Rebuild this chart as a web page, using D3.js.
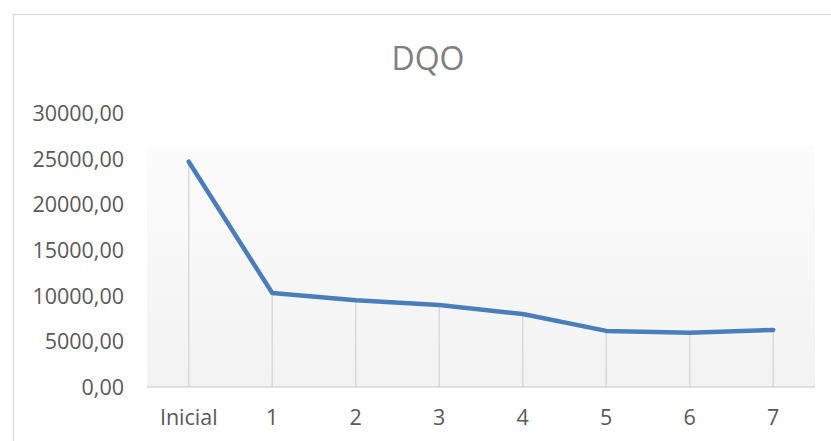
<!DOCTYPE html>
<meta charset="utf-8">
<html>
  <head>
    <style>
      body { margin: 0; background: #fff; }
      text.tick { font-family: "Open Sans", sans-serif; font-size: 21.5px; fill: #595959; }
      text.title { font-family: "Open Sans", sans-serif; font-size: 32px; fill: #7f7f7f; }
    </style>
    <script src="https://cdn.jsdelivr.net/npm/d3@7"></script>
  </head>
  <body>
    <div id="chart"></div>
    <script>
      var categories = ["Inicial", "1", "2", "3", "4", "5", "6", "7"];
      var dqo = [24700, 10300, 9500, 9000, 8000, 6150, 5950, 6250];
      var yTicks = [0, 5000, 10000, 15000, 20000, 25000, 30000];

      var W = 831, H = 441,
          plotLeft = 147, plotRight = 815, plotTop = 113.4, plotBottom = 387;

      var svg = d3.select("#chart").append("svg")
          .attr("width", W)
          .attr("height", H);

      // chart frame (runs off the window at right/bottom)
      svg.append("rect")
          .attr("x", 13.5).attr("y", 14.5)
          .attr("width", W).attr("height", H)
          .style("fill", "none")
          .style("stroke", "#d9d9d9")
          .style("stroke-width", 1.2);

      var x = d3.scaleBand().domain(categories).range([plotLeft, plotRight]);
      var y = d3.scaleLinear().domain([0, 30000]).range([plotBottom, plotTop]);

      var grad = svg.append("defs").append("linearGradient")
          .attr("id", "bg").attr("x1", 0).attr("y1", 0).attr("x2", 0).attr("y2", 1);
      grad.append("stop").attr("offset", "0").attr("stop-color", "#ffffff");
      grad.append("stop").attr("offset", "0.12").attr("stop-color", "#ffffff");
      grad.append("stop").attr("offset", "0.125").attr("stop-color", "#fcfcfc");
      grad.append("stop").attr("offset", "1").attr("stop-color", "#f2f2f2");

      svg.append("rect")
          .attr("x", plotLeft).attr("y", y(30000))
          .attr("width", plotRight - plotLeft).attr("height", plotBottom - y(30000))
          .style("fill", "url(#bg)");

      svg.append("text")
          .attr("class", "title")
          .attr("x", 428).attr("y", 70)
          .style("text-anchor", "middle")
          .text("DQO");

      // drop lines
      svg.selectAll(".drop")
          .data(dqo)
          .enter().append("line")
          .attr("x1", function(d, i) { return x(categories[i]) + x.bandwidth() / 2; })
          .attr("x2", function(d, i) { return x(categories[i]) + x.bandwidth() / 2; })
          .attr("y1", function(d) { return y(d); })
          .attr("y2", y(0))
          .style("stroke", "#d9d9d9")
          .style("stroke-width", 1.5);

      // x axis line
      svg.append("line")
          .attr("x1", plotLeft).attr("x2", plotRight)
          .attr("y1", y(0)).attr("y2", y(0))
          .style("stroke", "#d9d9d9")
          .style("stroke-width", 1.5);

      // y labels
      svg.selectAll(".ylab")
          .data(yTicks)
          .enter().append("text")
          .attr("class", "tick")
          .attr("x", 124)
          .attr("y", function(d) { return y(d) + 7.8; })
          .style("text-anchor", "end")
          .text(function(d) { return d3.format(".2f")(d).replace(".", ","); });

      // x labels
      svg.selectAll(".xlab")
          .data(categories)
          .enter().append("text")
          .attr("class", "tick")
          .attr("x", function(d) { return x(d) + x.bandwidth() / 2; })
          .attr("y", 425)
          .style("text-anchor", "middle")
          .text(function(d) { return d; });

      var line = d3.line()
          .x(function(d, i) { return x(categories[i]) + x.bandwidth() / 2; })
          .y(function(d) { return y(d); });

      svg.append("path")
          .datum(dqo)
          .attr("d", line)
          .style("fill", "none")
          .style("stroke", "#4a7ebb")
          .style("stroke-width", 4.5)
          .style("stroke-linecap", "round")
          .style("stroke-linejoin", "round");
    </script>
  </body>
</html>
